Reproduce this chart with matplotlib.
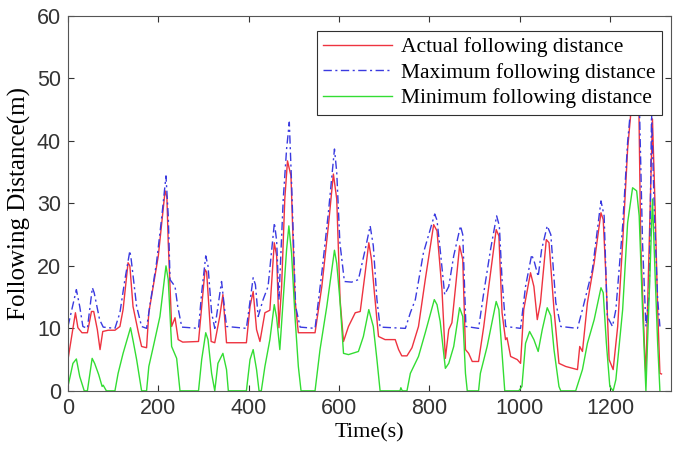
import matplotlib
matplotlib.use("Agg")
import matplotlib.pyplot as plt

# Actual following distance (red)
actual_t = [0, 16.5, 22, 31, 43, 52, 57, 65, 71, 77, 89, 104, 115, 122, 133, 137, 144, 156, 163, 174,
            179, 185, 200, 215, 219, 222, 229.5, 237, 244, 254, 289, 303.5, 307, 317, 325, 336, 343, 351,
            395, 403, 410, 417.5, 425, 436, 447, 456.7, 462, 467, 473, 480, 486, 493.7, 502.6, 510, 547,
            562, 576.5, 587.6, 595, 602.4, 610, 621, 636, 647, 658, 666, 672, 678, 687.5, 702, 724.5, 732,
            739, 750.5, 761.6, 776, 791, 809.6, 817, 828, 835.5, 843, 850, 859, 867, 874, 880, 887, 895,
            909, 920.5, 931.6, 948, 954, 961, 968.7, 972, 980, 994.7, 1002, 1009, 1024, 1031.5, 1039,
            1046, 1059, 1065, 1076, 1087, 1102, 1128, 1133, 1139, 1150, 1165, 1180, 1185, 1191, 1198,
            1207, 1217, 1228, 1239, 1248, 1256, 1264, 1268, 1276, 1279.5, 1283, 1290.6, 1294, 1300,
            1305.5, 1310.5, 1314]
actual_d = [5.0, 12.5, 10.1, 9.3, 9.3, 12.7, 12.7, 9.8, 6.6, 9.5, 9.7, 9.7, 10.3, 13, 20.5, 20, 13.5, 9.3,
            7.1, 6.9, 12.5, 15.1, 21.6, 32, 31, 23.7, 10.3, 11.7, 8.2, 7.8, 7.9, 19.4, 19, 7.9, 7.7, 11.9,
            15.4, 7.7, 7.7, 13.5, 15.9, 9.8, 7.9, 12.5, 12.9, 23.7, 21.6, 10.1, 16.7, 30.7, 36.8, 34.4,
            14.6, 9.3, 9.3, 16.7, 26.4, 34.7, 30.7, 14.6, 7.9, 10.3, 12.5, 12.7, 18.9, 23.7, 21, 16, 8.7,
            8.2, 8.2, 6.6, 5.6, 5.6, 6.9, 10.3, 17.8, 26.6, 25.6, 16.2, 5.2, 9.8, 10.9, 17.3, 23.2, 21,
            6.6, 6.0, 4.7, 4.7, 10.3, 16.7, 25.8, 24.8, 12.5, 8.2, 8.5, 5.5, 5.0, 4.4, 13, 18.9, 16.7,
            11.4, 14.1, 24.2, 23.7, 13, 4.4, 3.9, 3.4, 7.1, 6.3, 14.1, 20.5, 28.5, 27.4, 18.3, 5.0, 3.4,
            10.3, 23.7, 38.7, 46, 47, 45, 23.7, 7.6, 2.3, 13, 34.4, 43.5, 29, 13, 2.8, 2.7]

# Maximum following distance (blue)
max_t = [0, 18.6, 26, 33, 43, 54, 58, 70, 78, 104, 115, 126, 137, 140, 152, 163, 174, 181, 196, 207, 217,
         222, 226, 237, 243, 252, 289, 296, 305, 310, 318, 325, 340, 351, 395, 410, 415, 421, 432, 443,
         457, 462, 467, 476.6, 484, 490, 495, 504, 514, 547, 562, 576.5, 590, 595, 602, 612, 628, 643,
         658, 669, 676, 684, 691, 747, 758, 769, 787, 812, 817, 824, 834, 843, 854, 869, 874, 881, 909,
         920.5, 935.5, 949, 955, 961, 969, 1002, 1013, 1026.6, 1033, 1041, 1048.6, 1061, 1069, 1080,
         1091, 1128, 1139, 1161, 1180, 1187, 1194, 1205.5, 1213, 1228, 1239, 1248, 1256, 1265, 1272,
         1279.5, 1287, 1292, 1298, 1305.5, 1310.5]
max_d = [10.3, 16.2, 13.5, 10.3, 10, 16.5, 15.7, 11.4, 10.2, 10, 12.5, 17.8, 22.4, 21, 13.5, 10.3, 10,
         13.5, 20.5, 27.4, 34.4, 28, 17.8, 16.7, 13.5, 10.2, 10, 15.7, 21.6, 20, 12.5, 10, 17.5, 10.3,
         10, 18.1, 17, 11.9, 14.6, 16.7, 26.9, 24, 14.6, 30.7, 38.7, 43, 33.3, 13.5, 10.2, 10, 18.9,
         28.5, 38.7, 35, 23.7, 17.5, 17.4, 17.8, 22.6, 26.4, 23.2, 14.6, 10.2, 10, 12.5, 14.6, 22.1,
         28.3, 27.3, 22.6, 15.4, 16.7, 21.6, 26.4, 25, 10.3, 10, 15.7, 22.6, 28, 26.4, 17.8, 10.3, 10,
         16.7, 21.8, 20.5, 18.3, 22.6, 26.4, 25, 14.1, 10.3, 10, 13, 19.4, 30.4, 28, 11.9, 10.3, 13,
         26.4, 39.8, 47, 48, 46, 23.7, 10.3, 15.7, 44.5, 29, 14.6, 10.3]

# Minimum following distance (green)
min_t = [0, 11, 18.6, 26, 36, 43, 53.5, 59, 68, 75.6, 78, 85, 104, 111, 122, 138.5, 144.5, 152, 163, 174,
         179, 189, 203.6, 217, 222, 229.5, 240.6, 248, 289, 296, 305, 310, 318, 325, 332, 343, 351, 355,
         395, 403, 410, 417.5, 423, 428, 436, 447, 456.7, 462, 469, 476.6, 484, 489, 495, 502.6, 510,
         516, 547, 558, 573, 590, 595, 602, 610, 621, 643, 654, 666, 676, 684, 691, 735, 737, 740,
         750.5, 758, 776, 791, 811, 817, 824, 835.5, 843, 854, 867, 874, 880, 884, 909, 913, 928, 948,
         954, 961, 967, 998, 1005, 1013, 1022, 1031.5, 1041, 1050, 1061, 1069, 1076, 1087, 1091, 1124,
         1139, 1150, 1165, 1180, 1185, 1192, 1199.6, 1207, 1213, 1228, 1239, 1250, 1259, 1264.6, 1272,
         1279.5, 1283, 1287, 1294, 1300, 1305.5, 1310.5]
min_d = [0.7, 4.4, 5.1, 2.3, 0, 0, 5.2, 4.4, 2.6, 0.7, 0.9, 0, 0, 2.8, 6, 10.1, 7.9, 5, 0, 0, 3.9, 7.1,
         11.9, 20, 17.8, 7.1, 5.2, 0, 0, 5, 9.3, 8.2, 2.8, 0, 4.4, 6, 3.4, 0, 0, 5, 6.6, 3.4, 0, 0, 3.9,
         8.2, 13.8, 11.7, 6.6, 14.6, 22.6, 26.4, 22, 11.9, 3.9, 0, 0, 6.6, 13.5, 22.5, 20.4, 14.6, 6,
         5.8, 6.3, 8.7, 13, 10.3, 5, 0, 0, 0.5, 0, 0, 2.8, 5.5, 9.3, 14.6, 13.8, 11.1, 3.6, 4.4, 7.1,
         13.3, 11.9, 2.8, 0, 0, 2.8, 7.1, 14.3, 13, 6, 0, 0, 0.7, 7.6, 9.5, 8.2, 6.3, 9.8, 13.3, 12,
         6.6, 0.7, 0, 0, 3.4, 7.6, 11.4, 16.5, 15.7, 7.6, 0.7, 0, 1.8, 13, 26.9, 32.5, 32, 28, 13, 0,
         7.6, 15.7, 30.7, 18.3, 7.6, 0]

x_ticks = [0, 200, 400, 600, 800, 1000, 1200]
y_ticks = [0, 10, 20, 30, 40, 50, 60]

fig = plt.figure(figsize=(6.73, 4.55), dpi=100)
ax = fig.add_axes([0.101, 0.141, 0.896, 0.824])

ax.plot(actual_t, actual_d, color="#ee3340", lw=1.0, label="Actual following distance")
ax.plot(max_t, max_d, color="#3a3ae0", lw=1.0, linestyle=(0, (6, 2.5, 1.5, 2.5)),
        label="Maximum following distance")
ax.plot(min_t, min_d, color="#33dd33", lw=1.0, label="Minimum following distance")

ax.set_xlim(0, 1335)
ax.set_ylim(0, 60)
ax.set_xticks(x_ticks)
ax.set_yticks(y_ticks)
ax.tick_params(direction="in", length=4, top=True, right=True, labelsize=15.5,
               colors="#333333", pad=5)
for lab in ax.get_xticklabels() + ax.get_yticklabels():
    lab.set_fontfamily("Liberation Sans")
for sp in ax.spines.values():
    sp.set_color("#555555")
    sp.set_linewidth(0.8)

ax.set_xlabel("Time(s)", fontfamily="Liberation Serif", fontsize=16, labelpad=3)
ax.set_ylabel("Following Distance(m)", fontfamily="Liberation Serif", fontsize=18, labelpad=4)

leg = ax.legend(loc="upper right", bbox_to_anchor=(0.985, 0.96), borderaxespad=0,
                prop={"family": "Liberation Serif", "size": 15.5}, fancybox=False,
                edgecolor="#303030", framealpha=1, handlelength=3.2, labelspacing=0.25,
                borderpad=0.3, handletextpad=0.4)
leg.get_frame().set_linewidth(0.8)

fig.savefig("out.png", dpi=100)
